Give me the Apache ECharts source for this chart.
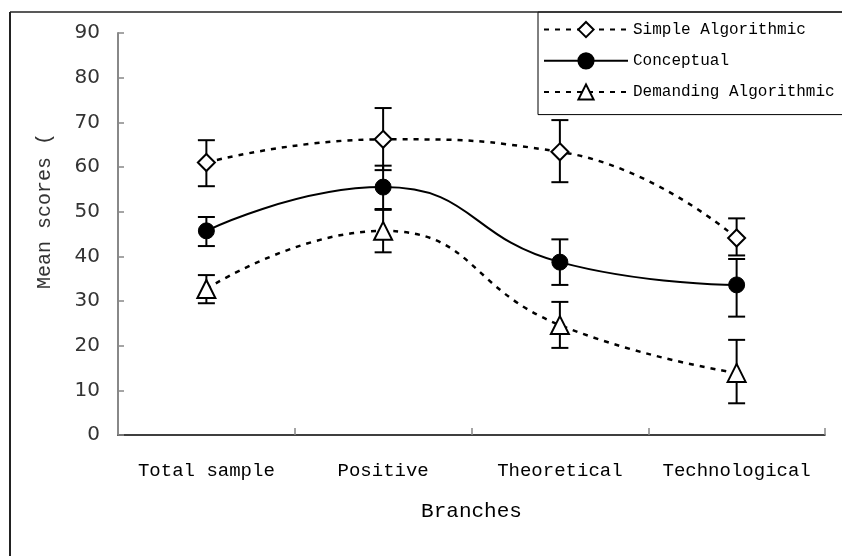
<!DOCTYPE html>
<html>
<head>
<meta charset="utf-8">
<script src="https://cdn.jsdelivr.net/npm/echarts@6/dist/echarts.min.js"></script>
<style>
html,body{margin:0;padding:0;background:#fff;}
#chart{width:842px;height:556px;}
</style>
</head>
<body>
<div id="chart"></div>
<script>
// ---- data ----
var categories = ['Total sample', 'Positive', 'Theoretical', 'Technological'];
var seriesNames = ['Simple Algorithmic', 'Conceptual', 'Demanding Algorithmic'];
var simpleMean = [61.0, 66.2, 63.4, 44.1];
var simpleLow  = [55.7, 59.3, 56.6, 40.2];
var simpleHigh = [66.0, 73.2, 70.5, 48.5];
var conceptMean = [45.7, 55.5, 38.7, 33.6];
var conceptLow  = [42.3, 50.6, 33.6, 26.5];
var conceptHigh = [48.8, 60.3, 43.8, 39.4];
var demandMean = [32.7, 45.7, 24.6, 13.9];
var demandLow  = [29.5, 40.9, 19.5, 7.1];
var demandHigh = [35.8, 50.4, 29.8, 21.3];
var yTicks = [0, 10, 20, 30, 40, 50, 60, 70, 80, 90];

var chart = echarts.init(document.getElementById('chart'), null, {renderer: 'canvas'});

function errData(low, high) {
  return categories.map(function (c, i) { return [i, low[i], high[i]]; });
}
function errRender(params, api) {
  var x = api.value(0);
  var lo = api.coord([x, api.value(1)]);
  var hi = api.coord([x, api.value(2)]);
  var hw = 8.5;
  var st = {stroke: '#000', lineWidth: 2};
  return {
    type: 'group',
    children: [
      {type: 'line', shape: {x1: lo[0], y1: lo[1], x2: hi[0], y2: hi[1]}, style: st},
      {type: 'line', shape: {x1: lo[0] - hw, y1: lo[1], x2: lo[0] + hw, y2: lo[1]}, style: st},
      {type: 'line', shape: {x1: hi[0] - hw, y1: hi[1], x2: hi[0] + hw, y2: hi[1]}, style: st}
    ]
  };
}

var monoFont = '"Liberation Mono", "DejaVu Sans Mono", monospace';

var option = {
  backgroundColor: '#fff',
  animation: false,
  grid: {left: 118, right: 17, top: 33, bottom: 121},
  legend: {
    orient: 'vertical',
    left: 538, top: 12,
    padding: [9, 40, 14, 5],
    itemWidth: 84, itemHeight: 19, itemGap: 14,
    borderColor: '#000', borderWidth: 1,
    backgroundColor: '#fff',
    data: seriesNames,
    textStyle: {fontFamily: monoFont, fontSize: 16, color: '#000'}
  },
  xAxis: {
    type: 'category',
    data: categories,
    boundaryGap: true,
    name: 'Branches',
    nameLocation: 'middle',
    nameGap: 66,
    nameTextStyle: {fontFamily: monoFont, fontSize: 21, color: '#000'},
    axisLine: {lineStyle: {color: '#000', width: 1.5}},
    axisTick: {show: true, inside: true, length: 7, alignWithLabel: false, lineStyle: {color: '#888', width: 1.5}},
    axisLabel: {fontFamily: monoFont, fontSize: 19, color: '#000', margin: 26, interval: 0},
    splitLine: {show: false}
  },
  yAxis: {
    type: 'value',
    min: yTicks[0], max: yTicks[yTicks.length - 1], interval: 10,
    axisLine: {show: true, lineStyle: {color: '#888', width: 2}},
    axisTick: {show: true, inside: true, length: 6, lineStyle: {color: '#888', width: 1.5}},
    axisLabel: {fontFamily: '"DejaVu Sans", sans-serif', fontSize: 20, color: '#333', margin: 18},
    splitLine: {show: false}
  },
  graphic: [
    {type: 'line', shape: {x1: 10, y1: 12, x2: 842, y2: 12}, style: {stroke: '#222', lineWidth: 1.5}, z: 100},
    {type: 'line', shape: {x1: 10, y1: 12, x2: 10, y2: 556}, style: {stroke: '#222', lineWidth: 2}, z: 100},
    {type: 'text', x: 45, y: 211, rotation: Math.PI / 2,
     style: {text: 'Mean scores (', fontFamily: monoFont, fontSize: 20, fill: '#333', textAlign: 'center', textVerticalAlign: 'middle'}}
  ],
  series: [
    {type: 'custom', name: 'errSimple', data: errData(simpleLow, simpleHigh), renderItem: errRender, z: 1, silent: true},
    {type: 'custom', name: 'errConcept', data: errData(conceptLow, conceptHigh), renderItem: errRender, z: 1, silent: true},
    {type: 'custom', name: 'errDemand', data: errData(demandLow, demandHigh), renderItem: errRender, z: 1, silent: true},
    {
      type: 'line', name: seriesNames[0], data: simpleMean, smooth: 0.5, z: 3,
      symbol: 'diamond', symbolSize: 17,
      lineStyle: {color: '#000', width: 2.5, type: [5, 6]},
      itemStyle: {color: '#fff', borderColor: '#000', borderWidth: 2}
    },
    {
      type: 'line', name: seriesNames[1], data: conceptMean, smooth: 0.5, z: 3,
      symbol: 'circle', symbolSize: 16,
      lineStyle: {color: '#000', width: 2},
      itemStyle: {color: '#000', borderColor: '#000', borderWidth: 1}
    },
    {
      type: 'line', name: seriesNames[2], data: demandMean, smooth: 0.5, z: 3,
      symbol: 'triangle', symbolSize: 18,
      lineStyle: {color: '#000', width: 2.5, type: [5, 6]},
      itemStyle: {color: '#fff', borderColor: '#000', borderWidth: 2}
    }
  ]
};
chart.setOption(option);
</script>
</body>
</html>
